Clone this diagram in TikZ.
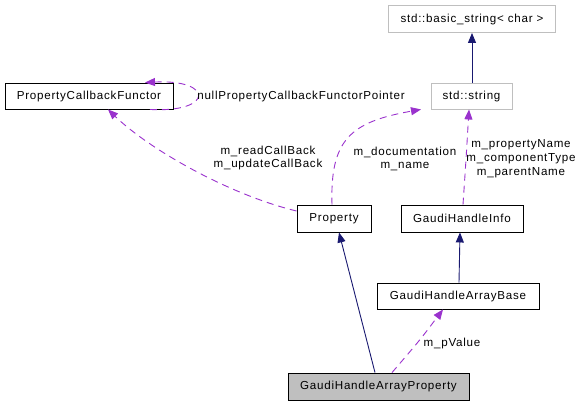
\documentclass[tikz,border=0pt]{standalone}
\usepackage{fontspec}
\setmainfont[LetterSpace=6.5]{Liberation Sans}
\usetikzlibrary{arrows.meta}
\definecolor{inh}{HTML}{191970}
\definecolor{use}{HTML}{9A32CD}
\definecolor{gb}{HTML}{BFBFBF}
\tikzset{
  cls/.style={draw=black, line width=0.9pt, inner sep=0pt, font=\fontsize{11.6}{13}\selectfont},
  ext/.style={cls, draw=gb},
  lbl/.style={font=\fontsize{11.6}{13.8}\selectfont, align=center, inner sep=0pt},
  inhe/.style={draw=inh, line width=0.9pt, -{Triangle[length=10pt,width=8pt]}},
  usee/.style={draw=use, line width=0.9pt, dash pattern=on 7pt off 5pt, -{Triangle[length=10pt,width=8pt]}},
}
\begin{document}
\begin{tikzpicture}[x=1pt,y=-1pt]
\useasboundingbox (0,0) rectangle (582,405);
\node[ext, minimum width=167pt, minimum height=27pt] (bs) at (472,19) {std::basic\_string< char >};
\node[ext, minimum width=81pt, minimum height=26pt] (ss) at (471.5,96) {std::string};
\node[cls, minimum width=168pt, minimum height=26pt] (pcf) at (89,96) {PropertyCallbackFunctor};
\node[cls, minimum width=74pt, minimum height=27pt] (prop) at (334,218.5) {Property};
\node[cls, minimum width=122pt, minimum height=27pt] (ghi) at (462,218.5) {GaudiHandleInfo};
\node[cls, minimum width=162pt, minimum height=26pt] (ghab) at (458,296) {GaudiHandleArrayBase};
\node[cls, fill=gb, minimum width=181pt, minimum height=27pt] (ghap) at (378.5,386.5) {GaudiHandleArrayProperty};

\coordinate (ssb) at (472,83);
\draw[inhe] (ssb) -- (bs.south);
\draw[inhe] (ghab.north -| 459,0) -- (ghi.south -| 460,0);
\draw[inhe] (ghap.north -| 375,0) -- (prop.south -| 339,0);
\draw[usee] (ghap.north -| 392,0) .. controls (420,340) .. (ghab.south -| 443,0);
\draw[usee] (ghi.north -| 463,0) .. controls (466,160) .. (ss.south -| 469,0);
\draw[usee] (prop.north -| 332,0) .. controls (330,140) and (350,122) .. (ss.south -| 421,0);
\draw[usee] (prop.west |- 0,211) .. controls (230,195) and (150,150) .. (pcf.south -| 108,0);
\draw[usee] (pcf.south -| 150,0) .. controls (214,113) and (214,79) .. (pcf.north -| 145,0);

\node[lbl] (l1) at (301,96) {nullPropertyCallbackFunctorPointer};
\node[lbl] (l2) at (268,158) {m\_readCallBack\\m\_updateCallBack};
\node[lbl] (l3) at (405,159) {m\_documentation\\m\_name};
\node[lbl] (l4) at (521,158.5) {m\_propertyName\\m\_componentType\\m\_parentName};
\node[lbl] (l5) at (452,343) {m\_pValue};
\end{tikzpicture}
\end{document}
